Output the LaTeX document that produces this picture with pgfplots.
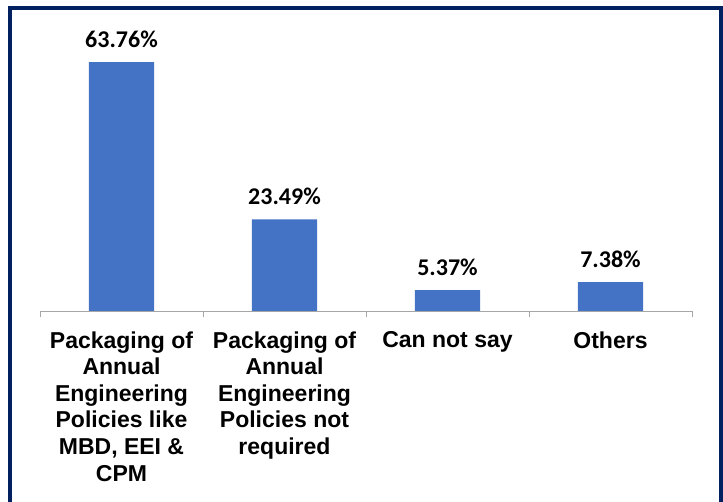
\documentclass[border=0pt]{standalone}
\usepackage{fontspec}
\usepackage{pgfplots}
\pgfplotsset{compat=1.18}
\newfontfamily\catfont{Liberation Sans}
\newfontfamily\valfont{Carlito}
\definecolor{barblue}{HTML}{4472C4}
\definecolor{navyb}{HTML}{002060}
\definecolor{axgray}{HTML}{A6A6A6}
\begin{document}
\begin{tikzpicture}[x=1pt,y=1pt]
\begin{axis}[at={(40pt,191pt)}, anchor=south west, scale only axis,
  width=652pt, height=281pt,
  xmin=-0.5, xmax=3.5, ymin=0, ymax=72,
  ybar, bar width=0.4, clip=false,
  axis x line=bottom, axis y line=none,
  axis line style={-, draw=axgray, line width=0.8pt},
  xtick={0,1,2,3}, major tick length=0pt,
  minor xtick={-0.5,0.5,1.5,2.5,3.5}, minor tick length=6pt, tick align=outside,
  tick style={draw=axgray, line width=0.8pt},
  xticklabels={{Packaging of\\Annual\\Engineering\\Policies like\\MBD, EEI \&\\CPM},
               {Packaging of\\Annual\\Engineering\\Policies not\\required},
               {Can not say},{Others}},
  xticklabel style={align=center, anchor=north, yshift=-17pt, font=\catfont\bfseries\fontsize{23}{26.6}\selectfont},
  /pgf/number format/assume math mode=true,
  nodes near coords={\pgfmathprintnumber[fixed,precision=2,fixed zerofill]{\pgfplotspointmeta}\%},
  every node near coord/.append style={anchor=center, yshift=23pt, font=\valfont\bfseries\fontsize{24}{28}\selectfont, text=black},
]
\addplot[fill=barblue, draw=none] coordinates {(0,63.76) (1,23.49) (2,5.37) (3,7.38)};
\end{axis}
\pgfresetboundingbox
\path[use as bounding box] (0,0) rectangle (723,502);
\draw[navyb, line width=4pt] (10,-20) -- (10,494) -- (721,494) -- (721,-20);
\end{tikzpicture}
\end{document}
